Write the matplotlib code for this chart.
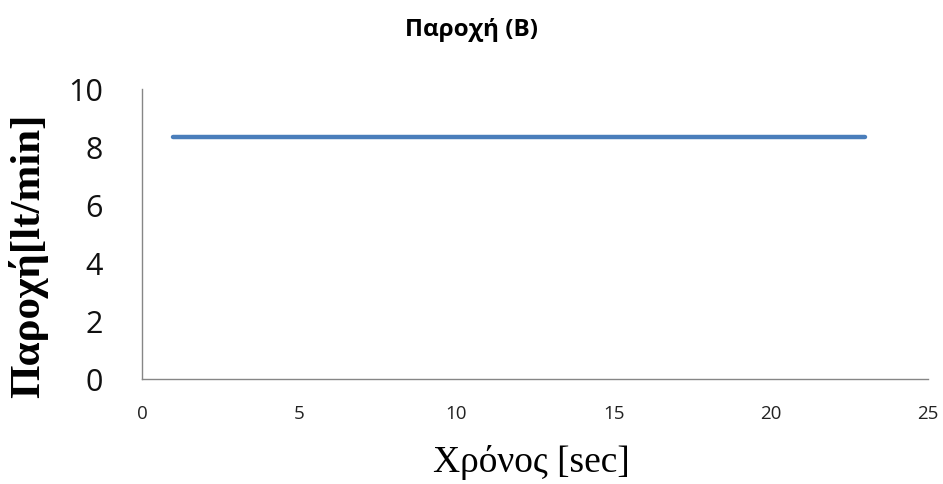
import matplotlib
matplotlib.use("Agg")
import matplotlib.pyplot as plt

# Flow-rate series (time in seconds, flow in lt/min)
time_sec = [1, 23]
flow_lpm = [8.35, 8.35]

x_ticks = [0, 5, 10, 15, 20, 25]
y_ticks = [0, 2, 4, 6, 8, 10]

title = "Παροχή (B)"
x_label = "Χρόνος [sec]"
y_label = "Παροχή[lt/min]"

fig = plt.figure(figsize=(9.43, 4.85), dpi=100)
ax = fig.add_axes([0.1506, 0.2165, 0.8335, 0.598])

ax.plot(time_sec, flow_lpm, color="#4A7EBB", linewidth=3.2, solid_capstyle="round")

ax.set_xlim(0, 25)
ax.set_ylim(0, 10)
ax.set_xticks(x_ticks)
ax.set_yticks(y_ticks)

for side in ("top", "right"):
    ax.spines[side].set_visible(False)
for side in ("left", "bottom"):
    ax.spines[side].set_color("#868686")
    ax.spines[side].set_linewidth(1.0)

ax.tick_params(axis="both", length=0)
ax.tick_params(axis="x", labelsize=13.5, pad=18, labelcolor="#222222")
ax.tick_params(axis="y", labelsize=22, pad=28, labelcolor="#111111")
for lbl in ax.get_xticklabels() + ax.get_yticklabels():
    lbl.set_family(["Open Sans", "DejaVu Sans"])

ax.set_xlabel(x_label, family=["Liberation Serif", "DejaVu Serif"], fontsize=27)
ax.xaxis.set_label_coords(0.496, -0.286)
ax.xaxis.label.set_verticalalignment("center")
ax.set_ylabel(y_label, family=["Liberation Serif", "DejaVu Serif"], fontweight="bold",
              fontsize=31)
ax.yaxis.set_label_coords(-0.145, 0.43)
ax.yaxis.label.set_verticalalignment("center")

fig.text(0.5, 0.938, title, ha="center", va="center",
         family=["Open Sans", "DejaVu Sans"], fontweight="bold", fontsize=17.5)

fig.savefig("out.png", dpi=100)
